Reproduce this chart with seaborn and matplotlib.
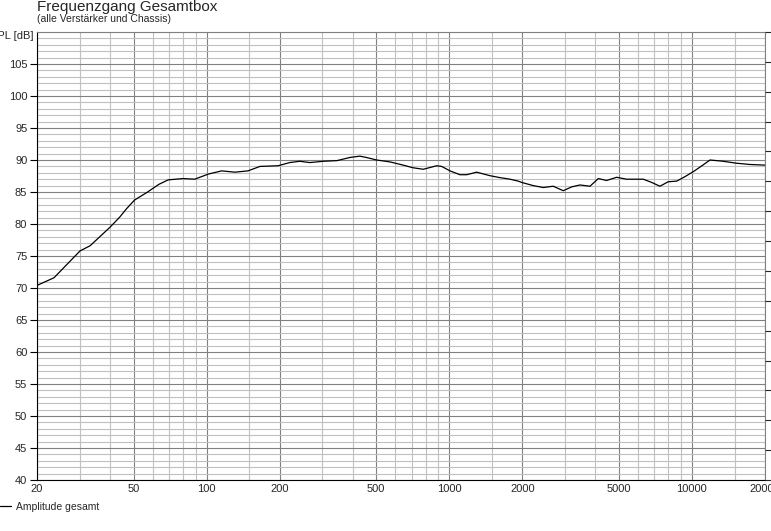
import numpy as np
import pandas as pd
import matplotlib
matplotlib.use("Agg")
import matplotlib.pyplot as plt
import seaborn as sns

# frequency response
freq_hz = [20, 23.5, 30.1, 33.1, 40, 43.9, 46.8, 50.5, 56.6, 63.6, 69.5, 80.1, 89.3,
           101.6, 115.3, 130.9, 148, 166, 197, 220, 242, 266, 303, 344, 390, 428, 455,
           502, 570, 646, 706, 781, 887, 930, 1007, 1107, 1180, 1297, 1470, 1615, 1780,
           1924, 1986, 2218, 2439, 2681, 2950, 3193, 3455, 3800, 4112, 4450, 4895, 5380,
           6300, 6820, 7380, 7980, 8650, 9360, 10150, 10990, 11870, 13460, 15230, 17340,
           20000]
spl_db = [70.4, 71.6, 75.8, 76.6, 79.5, 81.1, 82.4, 83.75, 84.9, 86.2, 86.9, 87.1, 87.0,
          87.8, 88.3, 88.1, 88.3, 89.0, 89.1, 89.6, 89.8, 89.6, 89.8, 89.9, 90.4, 90.6, 90.4,
          90.0, 89.7, 89.2, 88.8, 88.55, 89.1, 89.0, 88.3, 87.7, 87.7, 88.1, 87.55, 87.25, 87.0,
          86.7, 86.5, 86.0, 85.7, 85.9, 85.2, 85.8, 86.1, 85.9, 87.1, 86.8, 87.3, 87.0,
          87.0, 86.5, 85.9, 86.6, 86.7, 87.4, 88.2, 89.1, 90.0, 89.8, 89.5, 89.3,
          89.2]

major_freqs = [20, 50, 100, 200, 500, 1000, 2000, 5000, 10000, 20000]
major_labels = ["20", "50", "100", "200", "500", "1000", "2000", "5000", "10000", "20000"]
minor_freqs = [30, 40, 60, 70, 80, 90, 150, 300, 400, 600, 700, 800, 900, 1500,
               3000, 4000, 6000, 7000, 8000, 9000, 15000]
db_ticks = [40, 45, 50, 55, 60, 65, 70, 75, 80, 85, 90, 95, 100, 105]

df = pd.DataFrame({"Frequenz": freq_hz, "SPL": spl_db})

sns.set_style("white")
plt.rcParams["font.family"] = ["Liberation Sans", "DejaVu Sans"]

W, H = 771, 531
fig = plt.figure(figsize=(W / 100, H / 100), dpi=100)
ax = fig.add_axes([37 / W, 1 - 480 / H, (765 - 37) / W, (480 - 32) / H])

sns.lineplot(data=df, x="Frequenz", y="SPL", ax=ax, color="black", lw=0.9,
             label="Amplitude gesamt", zorder=5)

ax.set_xscale("log")
ax.set_xlim(20, 20000)
ax.set_ylim(40, 110)
ax.set_xticks(major_freqs)
ax.set_xticklabels(major_labels)
ax.set_xticks(minor_freqs, minor=True)
ax.set_yticks(db_ticks)
ax.set_yticks(np.arange(40, 111, 1), minor=True)
ax.xaxis.set_minor_formatter(matplotlib.ticker.NullFormatter())

ax.grid(which="minor", color="#c0c0c0", lw=0.8)
ax.grid(which="major", color="#808080", lw=0.8)
ax.set_axisbelow(True)

ax.tick_params(axis="x", which="both", length=0, pad=3, labelsize=8)
ax.tick_params(axis="y", which="major", length=5, width=0.8, color="black",
               direction="out", pad=2, labelsize=8, left=True)
ax.tick_params(axis="y", which="minor", length=0)
ax.set_xlabel("")
ax.set_ylabel("")
ax.get_legend().remove()

for side in ["left", "bottom"]:
    ax.spines[side].set_color("black")
    ax.spines[side].set_linewidth(0.8)
for side in ["top", "right"]:
    ax.spines[side].set_color("#808080")
    ax.spines[side].set_linewidth(0.8)

# second (right) axis, its labels run off the edge of the picture
ax2 = ax.twinx()
ax2.set_ylim(0, 15)
ax2.set_yticks(np.arange(0, 16, 1))
ax2.set_yticklabels([""] * 15 + ["20"])
ax2.tick_params(axis="y", length=5, width=0.8, direction="out", pad=1, labelsize=8)
ax2.grid(False)
for side in ["left", "bottom", "top", "right"]:
    ax2.spines[side].set_visible(False)

fig.text(37 / W, 1 - 11 / H, "Frequenzgang Gesamtbox", fontsize=11, ha="left",
         va="baseline")
fig.text(37 / W, 1 - 22.5 / H, "(alle Verstärker und Chassis)", fontsize=7.5, ha="left",
         va="baseline")
fig.text(33 / W, 1 - 36 / H, "SPL [dB]", fontsize=8, ha="right", va="center")

handles, labels = ax.get_legend_handles_labels()
fig.legend(handles, labels, loc="center left", bbox_to_anchor=(0, 1 - 507 / H),
           frameon=False, fontsize=7.5, handlelength=1.1, handletextpad=0.4,
           borderaxespad=0, borderpad=0)

fig.savefig("out.png", dpi=100)
